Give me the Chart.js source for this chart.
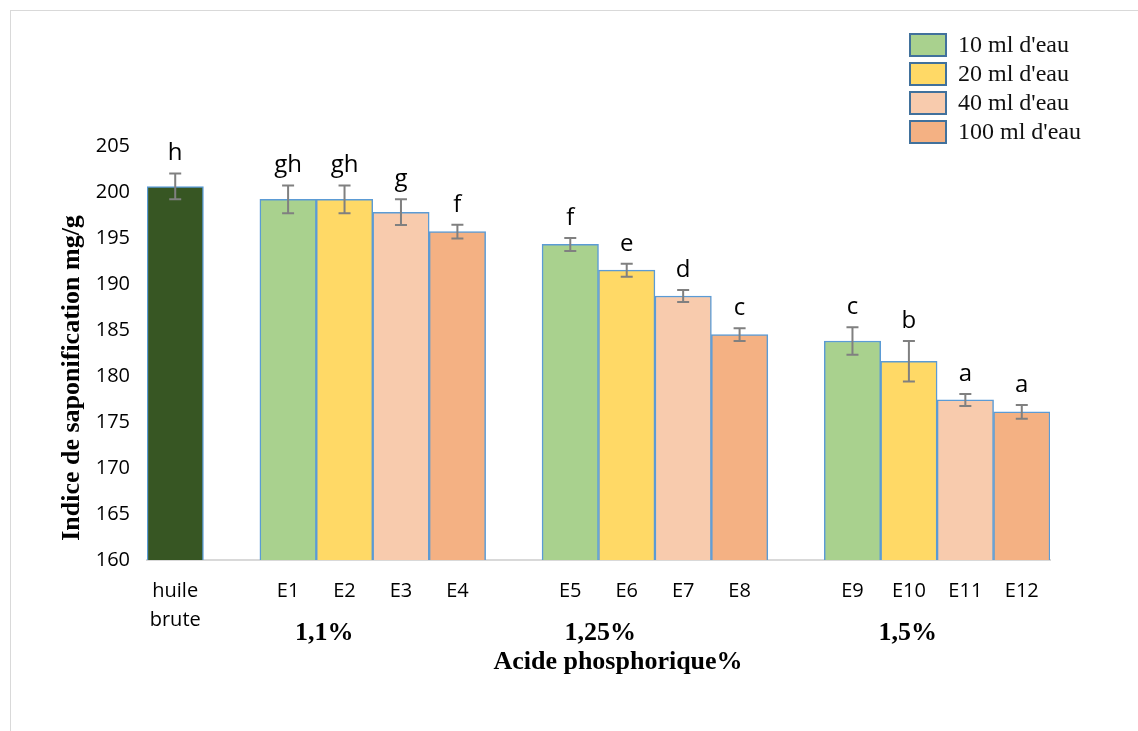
<!DOCTYPE html>
<html>
<head>
<meta charset="utf-8">
<script src="https://cdn.jsdelivr.net/npm/chart.js@4"></script>
<style>
  html, body { margin: 0; padding: 0; background: #fff; overflow: hidden; }
  #wrap { position: relative; width: 1138px; height: 731px; }
  #frame { position: absolute; left: 10px; top: 10px; width: 1200px; height: 740px; border: 1px solid #d9d9d9; }
  canvas { position: absolute; left: 0; top: 0; }
</style>
</head>
<body>
<div id="wrap">
  <div id="frame"></div>
  <canvas id="myChart" width="1138" height="731"></canvas>
</div>
<script>
// categories (empty strings are the gaps between groups)
let labels = [["huile", "brute"], "", "E1", "E2", "E3", "E4", "", "E5", "E6", "E7", "E8", "", "E9", "E10", "E11", "E12"];
let values = [200.6, null, 199.2, 199.2, 197.8, 195.7, null, 194.3, 191.5, 188.7, 184.5, null, 183.8, 181.6, 177.4, 176.1];
let errors = [1.4, null, 1.5, 1.5, 1.4, 0.75, null, 0.7, 0.7, 0.65, 0.7, null, 1.5, 2.2, 0.65, 0.75];
let letters = ["h", "", "gh", "gh", "g", "f", "", "f", "e", "d", "c", "", "c", "b", "a", "a"];

let green = "#a9d18e", yellow = "#ffd966", peach = "#f8cbad", orange = "#f4b183";
let barColors = ["#375623", null, green, yellow, peach, orange, null, green, yellow, peach, orange, null, green, yellow, peach, orange];

let legendNames = ["10 ml d'eau", "20 ml d'eau", "40 ml d'eau", "100 ml d'eau"];
let legendColors = [green, yellow, peach, orange];

let groupNames = ["1,1%", "1,25%", "1,5%"];
let groupPos = [2.64, 7.53, 12.98];

let serif = "'Liberation Serif', 'Times New Roman', serif";
let sans = "'Open Sans', sans-serif";

// error bars + letters drawn from the scales
const errorBars = {
  id: "errorBars",
  afterDatasetsDraw(chart) {
    let ctx = chart.ctx;
    let x = chart.scales.x, y = chart.scales.y;
    ctx.save();
    values.forEach((v, i) => {
      if (v === null) return;
      let px = x.getPixelForValue(i);
      let top = y.getPixelForValue(v + errors[i]);
      let bot = y.getPixelForValue(v - errors[i]);
      ctx.strokeStyle = "#808080";
      ctx.lineWidth = 2;
      ctx.beginPath();
      ctx.moveTo(px, top); ctx.lineTo(px, bot);
      ctx.moveTo(px - 6, top); ctx.lineTo(px + 6, top);
      ctx.moveTo(px - 6, bot); ctx.lineTo(px + 6, bot);
      ctx.stroke();
      ctx.fillStyle = "#000";
      ctx.font = "24px " + sans;
      ctx.textAlign = "center";
      ctx.textBaseline = "bottom";
      ctx.fillText(letters[i], px, top - 8);
    });
    ctx.restore();
  }
};

// titles, group labels and legend
const extras = {
  id: "extras",
  afterDraw(chart) {
    let ctx = chart.ctx;
    let x = chart.scales.x;
    ctx.save();
    ctx.fillStyle = "#000";
    ctx.font = "bold 26px " + serif;
    ctx.textAlign = "center";
    ctx.textBaseline = "middle";
    groupNames.forEach((g, i) => {
      let idx = Math.floor(groupPos[i]);
      let px = x.getPixelForValue(idx) + (groupPos[i] - idx) * (x.getPixelForValue(1) - x.getPixelForValue(0));
      ctx.fillText(g, px, 633);
    });
    ctx.fillText("Acide phosphorique%", 618, 662);

    ctx.translate(72, 378);
    ctx.rotate(-Math.PI / 2);
    ctx.fillText("Indice de saponification mg/g", 0, 0);
    ctx.restore();

    ctx.save();
    legendNames.forEach((name, i) => {
      let cy = 45 + i * 29;
      ctx.fillStyle = legendColors[i];
      ctx.fillRect(910, cy - 11, 36, 22);
      ctx.strokeStyle = "#41719c";
      ctx.lineWidth = 2;
      ctx.strokeRect(910, cy - 11, 36, 22);
      ctx.fillStyle = "#111";
      ctx.font = "24px " + serif;
      ctx.textAlign = "left";
      ctx.textBaseline = "middle";
      ctx.fillText(name, 958, cy + 1);
    });
    ctx.restore();
  }
};

let ctx = document.getElementById("myChart").getContext("2d");

let myChart = new Chart(ctx, {
  type: "bar",
  data: {
    labels,
    datasets: [
      {
        data: values,
        backgroundColor: barColors,
        borderColor: "#5b9bd5",
        borderWidth: 1.5,
        categoryPercentage: 1,
        barPercentage: 1
      }
    ]
  },
  options: {
    responsive: false,
    animation: false,
    layout: { padding: { left: 0, top: 146, right: 88, bottom: 0 } },
    plugins: { legend: { display: false }, tooltip: { enabled: false } },
    scales: {
      x: {
        grid: { display: false, drawTicks: false },
        border: { display: true, color: "#d9d9d9", width: 2 },
        ticks: {
          color: "#000",
          font: { family: sans, size: 20, lineHeight: 1.45 },
          padding: 17,
          autoSkip: false,
          maxRotation: 0
        },
        afterFit(s) { s.height = 171; }
      },
      y: {
        min: 160,
        max: 205,
        grid: { display: false, drawTicks: false },
        border: { display: false },
        ticks: {
          stepSize: 5,
          color: "#000",
          font: { family: sans, size: 20 },
          padding: 17
        },
        afterFit(s) { s.width = 147; }
      }
    }
  },
  plugins: [errorBars, extras]
});
</script>
</body>
</html>
